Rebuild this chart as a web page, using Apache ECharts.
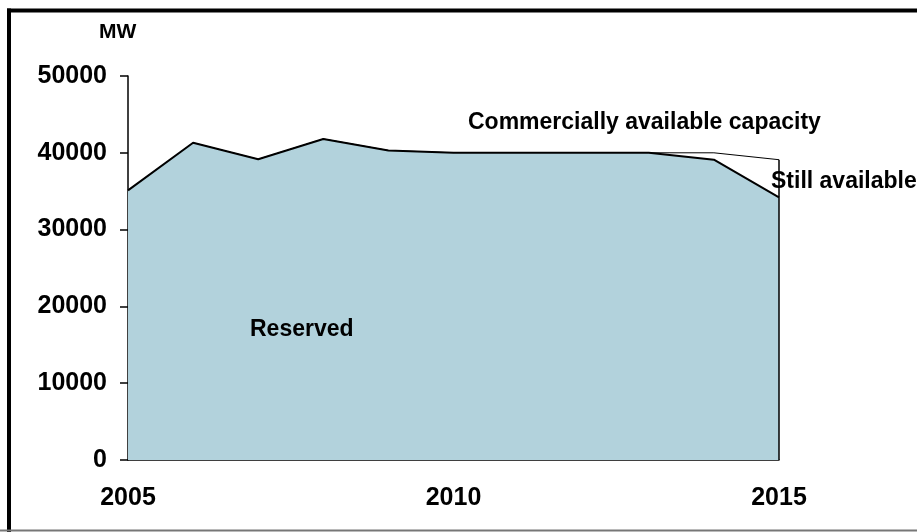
<!DOCTYPE html>
<html>
<head>
<meta charset="utf-8">
<script src="https://cdn.jsdelivr.net/npm/echarts@6/dist/echarts.min.js"></script>
<style>
  html, body { margin: 0; padding: 0; background: #ffffff; }
  #chart { width: 917px; height: 532px; }
</style>
</head>
<body>
<div id="chart"></div>
<script>
// Years on the horizontal axis
const years = [2005, 2006, 2007, 2008, 2009, 2010, 2011, 2012, 2013, 2014, 2015];
// Capacity already reserved (MW)
const reserved = [35100, 41300, 39150, 41800, 40300, 40000, 40000, 40000, 40000, 39100, 34200];
// Total commercially available capacity (MW)
const commercial = [35100, 41300, 39150, 41800, 40300, 40000, 40000, 40000, 40000, 40000, 39100];
// Axis tick labels
const yTicks = [0, 10000, 20000, 30000, 40000, 50000];
const xTicks = [2005, 2010, 2015];

const FONT = '"Liberation Sans", Arial, Helvetica, sans-serif';

const reservedPts = years.map((y, i) => [y, reserved[i]]);
const commercialPts = years.map((y, i) => [y, commercial[i]]);
const lastYear = years[years.length - 1];
// closing edge of the capacity area at the last year
const edgePts = [[lastYear, 0], [lastYear, commercial[commercial.length - 1]]];

const chart = echarts.init(document.getElementById('chart'), null, { renderer: 'canvas' });
chart.setOption({
  animation: false,
  backgroundColor: '#ffffff',
  grid: { left: 128, right: 138, top: 76, bottom: 72, containLabel: false },
  xAxis: {
    type: 'value',
    min: xTicks[0],
    max: xTicks[xTicks.length - 1],
    interval: 5,
    axisLine: { show: true, lineStyle: { color: '#000', width: 1.5 } },
    axisTick: { show: false },
    splitLine: { show: false },
    axisLabel: {
      margin: 26,
      color: '#000',
      fontFamily: FONT,
      fontWeight: 'bold',
      fontSize: 25,
      formatter: v => String(v)
    }
  },
  yAxis: {
    type: 'value',
    min: yTicks[0],
    max: yTicks[yTicks.length - 1],
    interval: 10000,
    axisLine: { show: true, lineStyle: { color: '#000', width: 1.5 } },
    axisTick: { show: true, inside: false, length: 8, lineStyle: { color: '#000', width: 1.5 } },
    splitLine: { show: false },
    axisLabel: {
      margin: 21,
      color: '#000',
      fontFamily: FONT,
      fontWeight: 'bold',
      fontSize: 25,
      formatter: v => String(v)
    }
  },
  series: [
    {
      name: 'Commercially available capacity',
      type: 'line',
      data: commercialPts,
      symbol: 'none',
      lineStyle: { color: '#000', width: 1 },
      z: 2
    },
    {
      name: 'Reserved',
      type: 'line',
      data: reservedPts,
      symbol: 'none',
      lineStyle: { color: '#000', width: 2 },
      areaStyle: { color: '#b2d2dc', opacity: 1 },
      z: 3
    },
    {
      name: 'edge',
      type: 'line',
      data: edgePts,
      symbol: 'none',
      lineStyle: { color: '#000', width: 1.5 },
      z: 4
    }
  ],
  graphic: [
    // frame
    { type: 'line', shape: { x1: 7, y1: 10.5, x2: 917, y2: 10.5 }, style: { stroke: '#000', lineWidth: 4 }, z: 10 },
    { type: 'line', shape: { x1: 9, y1: 8.5, x2: 9, y2: 532 }, style: { stroke: '#000', lineWidth: 4 }, z: 10 },
    { type: 'line', shape: { x1: 0, y1: 530.5, x2: 917, y2: 530.5 }, style: { stroke: '#777', lineWidth: 2 }, z: 10 },
    // unit
    { type: 'text', left: 99, top: 22, style: { text: 'MW', font: 'bold 21px ' + FONT, fill: '#000' }, z: 10 },
    // area annotations
    { type: 'text', left: 468, top: 111, style: { text: 'Commercially available capacity', font: 'bold 23px ' + FONT, fill: '#000' }, z: 10 },
    { type: 'text', left: 771, top: 170, style: { text: 'Still available', font: 'bold 23px ' + FONT, fill: '#000' }, z: 10 },
    { type: 'text', left: 250, top: 318, style: { text: 'Reserved', font: 'bold 23px ' + FONT, fill: '#000' }, z: 10 }
  ]
});
</script>
</body>
</html>
